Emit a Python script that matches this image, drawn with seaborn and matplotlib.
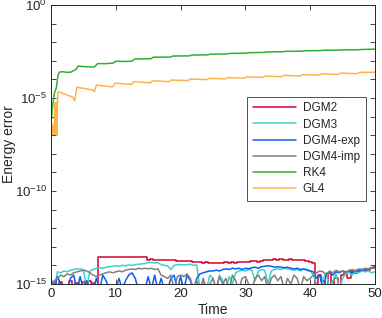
import numpy as np
import matplotlib
matplotlib.use("Agg")
import matplotlib.pyplot as plt
import matplotlib.ticker as mticker
import seaborn as sns

# Time grid of the DG runs (every 0.5 time units)
t_dg = np.arange(0, 50.5, 0.5)

# Energy errors of the DG schemes, in units of 1e-15 (values < 1 sit below the axis floor)
dgm2_e15 = [0.5, 1.2, 0.5, 1.3, 0.5, 0.6, 1.4, 0.5, 1.2, 0.5,
            1.3, 0.5, 1.5, 1.2, 0.6, 27, 27.5, 27, 28, 27.5,
            27, 27.5, 27, 28, 28, 28.5, 28, 27.5, 28, 27,
            20, 21, 20, 20, 19.5, 20, 19, 18.5, 19, 18,
            18, 17.5, 18, 17, 16, 15, 15.5, 14, 14.5, 14,
            14, 13.5, 14, 13, 14.5, 14, 15, 14, 15.5, 15,
            16, 15.5, 16.5, 17, 16, 18, 19, 20, 19, 21,
            20, 21, 20, 19.5, 21, 20, 19, 20, 18.5, 17,
            16, 14, 0.5, 3, 1.5, 0.5, 4, 0.8, 2, 0.5,
            3, 4.5, 2, 5, 4, 5, 5.5, 6, 5.5, 7, 8]
dgm3_e15 = [0.5, 0.5, 4.5, 4, 5, 4.5, 5.5, 6, 6.5, 6.5,
            6, 0.5, 5, 6, 7, 7.5, 7, 8, 8.5, 9,
            9.5, 9, 10, 9.5, 10.5, 10, 11, 11.5, 12, 12.5,
            14, 14.5, 13.5, 14, 11, 10, 9.5, 6, 10, 11,
            11, 10.5, 11, 11.5, 10, 10.5, 0.5, 1.5, 0.5, 3,
            2, 0.5, 3, 1.5, 0.5, 2.5, 1, 4, 5, 5.5,
            5, 6, 5.5, 1.5, 5, 6, 5.5, 1, 5, 6,
            6.5, 6, 7, 6.5, 6, 5.5, 6, 5, 6.5, 6,
            5, 3, 1, 0.5, 2, 4, 0.5, 1.5, 3.5, 0.5,
            2, 3.5, 4, 3, 4.5, 4, 5, 4.5, 5, 4, 4.5]
dgm4exp_e15 = [2, 0.5, 2.5, 1, 0.5, 0.5, 2, 3, 0.5, 2.5,
               0.5, 1.5, 0.5, 0.5, 2, 0.5, 3, 1.5, 0.5, 0.5,
               0.5, 2, 0.5, 1.5, 3, 4, 2, 0.5, 0.5, 0.5,
               2.5, 0.5, 3, 0.5, 2, 0.5, 0.5, 2, 3, 0.5,
               2.5, 0.5, 3, 1.5, 0.5, 2, 3.5, 4, 4.5, 5,
               5, 5.5, 5, 6, 6.5, 6, 7, 6.5, 7, 6,
               7, 6.5, 7.5, 8, 7, 8.5, 9, 9.5, 9, 8,
               8.5, 8, 7.5, 8, 7, 6.5, 7, 6, 6.5, 5.5,
               5, 4.5, 2, 3, 0.5, 3.5, 4, 3, 4.5, 4,
               5, 4.5, 5, 4, 5.5, 5, 6, 5.5, 6.5, 7, 8]
dgm4imp_e15 = [0.5, 1.5, 2, 3, 2.5, 3.5, 3, 4, 4.5, 5,
               5.5, 5, 4, 3, 2.5, 3, 3.5, 4, 4.5, 4,
               4.5, 5, 4.5, 5.5, 6, 6.5, 6, 7, 6.5, 7,
               6.5, 7, 6, 6.5, 3, 2.5, 2, 3, 0.5, 2.5,
               3, 2.5, 3.5, 2, 0.5, 1.5, 0.5, 2, 0.5, 1,
               2, 0.5, 2.5, 1, 2, 0.5, 3, 1.5, 0.5, 2,
               2.5, 1, 0.5, 2, 3, 1.5, 2.5, 0.5, 2, 3,
               1.5, 2.5, 0.5, 2, 1, 3, 2, 0.5, 2.5, 1.5,
               2, 3, 4, 5, 4.5, 3, 5, 4, 5.5, 4.5,
               5, 4, 5.5, 6, 5, 6.5, 6, 7, 6.5, 7.5, 7]

# RK4
rk4_t = [0, 0.3, 0.56, 0.82, 1.08, 1.34, 1.8, 2.5, 3.1, 3.9, 4.17, 5.5, 6.7, 7.2, 8.5,
         9.6, 10.0, 11.5, 12.5, 12.9, 15.4, 15.8, 18.4, 18.8, 21.3, 21.7, 24.2, 24.6,
         27.1, 27.5, 30.0, 30.4, 32.9, 33.3, 35.8, 36.2, 38.7, 39.1, 41.6, 42.0, 44.5,
         44.9, 47.4, 47.8, 50]
rk4 = [4.6e-7, 5.4e-6, 2.1e-5, 3.5e-5, 1.7e-4, 2.5e-4, 2.6e-4, 2.4e-4, 2.5e-4, 3.6e-4,
       5.2e-4, 4.8e-4, 4.7e-4, 7.1e-4, 7.1e-4, 7.6e-4, 9.5e-4, 9.3e-4, 9.6e-4, 1.26e-3,
       1.30e-3, 1.58e-3, 1.6e-3, 1.82e-3, 1.85e-3, 2.04e-3, 2.1e-3, 2.29e-3, 2.35e-3,
       2.51e-3, 2.58e-3, 2.75e-3, 2.85e-3, 3.02e-3, 3.1e-3, 3.24e-3, 3.32e-3, 3.47e-3,
       3.55e-3, 3.72e-3, 3.78e-3, 3.89e-3, 3.95e-3, 4.07e-3, 4.27e-3]

# GL4
gl4_t = [0, 0.1, 0.2, 0.3, 0.4, 0.5, 0.6, 0.7, 0.8, 0.9, 1.05, 1.3, 3.4, 3.65, 4.0,
         6.5, 6.7, 7.0, 9.5, 9.9, 12.4, 12.8, 15.3, 15.7, 18.2, 18.6, 21.1, 21.5,
         24.0, 24.4, 26.9, 27.3, 29.8, 30.2, 32.7, 33.1, 35.6, 36.0, 38.5, 38.9,
         41.4, 41.8, 44.3, 44.7, 47.2, 47.6, 50]
gl4 = [5e-7, 1.5e-7, 4e-7, 1.1e-7, 3e-7, 1.1e-7, 5.5e-6, 1.1e-7, 6e-6, 1e-7, 2.1e-5,
       2.1e-5, 1.1e-5, 7e-6, 3.8e-5, 2.7e-5, 2.2e-5, 5e-5, 4e-5, 6.3e-5, 5.4e-5, 7.6e-5,
       6.6e-5, 8.5e-5, 7.6e-5, 9.3e-5, 8.7e-5, 1.05e-4, 9.8e-5, 1.15e-4, 1.07e-4,
       1.26e-4, 1.17e-4, 1.38e-4, 1.29e-4, 1.51e-4, 1.41e-4, 1.66e-4, 1.55e-4, 1.82e-4,
       1.7e-4, 2.0e-4, 1.86e-4, 2.19e-4, 2.04e-4, 2.4e-4, 2.45e-4]

labels = ['DGM2', 'DGM3', 'DGM4-exp', 'DGM4-imp', 'RK4', 'GL4']
colors = ['#d6002f', '#3fd0cc', '#0a5ff5', '#808080', '#2fb02f', '#ffb24a']

sns.set_style("ticks")
plt.rcParams['font.family'] = ['Liberation Sans', 'DejaVu Sans']
plt.rcParams['mathtext.fontset'] = 'custom'
plt.rcParams['mathtext.rm'] = 'Liberation Sans'
plt.rcParams['mathtext.it'] = 'Liberation Sans'

fig = plt.figure(figsize=(3.82, 3.18), dpi=100)
ax = fig.add_axes([0.1335, 0.107, 0.848, 0.877])

dg_series = [dgm2_e15, dgm3_e15, dgm4exp_e15, dgm4imp_e15]
dg_styles = ['steps-mid', 'default', 'default', 'default']
for vals, lab, col, ds in zip(dg_series, labels[:4], colors[:4], dg_styles):
    sns.lineplot(x=t_dg, y=np.array(vals) * 1e-15, ax=ax, color=col, label=lab,
                 linewidth=1.1, drawstyle=ds)
sns.lineplot(x=rk4_t, y=rk4, ax=ax, color=colors[4], label=labels[4], linewidth=1.1)
sns.lineplot(x=gl4_t, y=gl4, ax=ax, color=colors[5], label=labels[5], linewidth=1.1)

ax.set_yscale('log')
ax.set_xlim(0, 50)
ax.set_ylim(1e-15, 1e0)
ax.set_xticks([0, 10, 20, 30, 40, 50])
ax.yaxis.set_major_locator(mticker.FixedLocator([10.0 ** k for k in range(-15, 1)]))
ax.yaxis.set_minor_locator(mticker.NullLocator())
ax.yaxis.set_major_formatter(mticker.FuncFormatter(
    lambda v, p: r'$10^{%d}$' % round(np.log10(v)) if round(np.log10(v)) % 5 == 0 else ''))

ax.tick_params(direction='in', length=3.5, width=0.6, colors='#262626',
               labelsize=9.5, top=True, right=True, pad=3)
for s in ax.spines.values():
    s.set_color('#262626')
    s.set_linewidth(0.7)

ax.set_xlabel('Time', fontsize=10, color='#262626', labelpad=2)
ax.set_ylabel('Energy error', fontsize=10, color='#262626')
ax.yaxis.set_label_coords(-0.108, 0.5)

leg = ax.legend(loc='upper right', bbox_to_anchor=(0.972, 0.672), fontsize=8.5,
                handlelength=3.6, frameon=True, fancybox=False, borderpad=0.5,
                labelspacing=0.35, handletextpad=0.6, borderaxespad=0)
leg.get_frame().set_edgecolor('#262626')
leg.get_frame().set_linewidth(0.7)

fig.savefig('out.png', dpi=100)
